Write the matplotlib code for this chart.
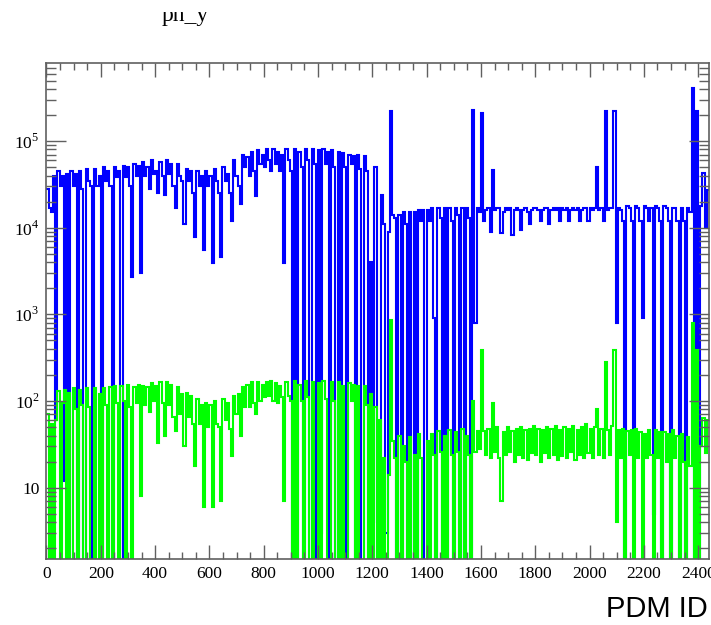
import numpy as np
import matplotlib
matplotlib.use("Agg")
import matplotlib.pyplot as plt
from matplotlib.ticker import MultipleLocator, LogLocator, NullFormatter
from matplotlib.transforms import Bbox

plt.rcParams["mathtext.fontset"] = "custom"
plt.rcParams["mathtext.rm"] = "Liberation Serif"

# one bin = 8 PDM ids, 305 bins over 0..2440
bin_width = 8

# blue histogram, counts in thousands
blue_k = [
    28, 17, 15, 40, 0.06, 45, 30, 40, 0.012, 42, 0, 45, 30, 42, 0, 45, 28, 0, 48, 35, 30, 0, 48, 30, 40,
    0, 50, 35, 45, 30, 0, 50, 38, 45, 0, 52, 38, 50, 30, 2.7, 55, 40, 52, 3.0, 58, 40, 50, 28, 60, 42,
    45, 25, 58, 40, 24, 60, 42, 55, 30, 17, 55, 40, 35, 11, 48, 35, 45, 25, 7.8, 45, 30, 40, 5.5, 45, 30,
    40, 3.9, 48, 35, 25, 4.6, 50, 35, 42, 25, 12, 60, 40, 30, 19, 70, 50, 65, 40, 75, 45, 23, 78, 55, 70,
    50, 80, 60, 45, 82, 55, 75, 45, 70, 3.9, 80, 60, 45, 0, 82, 0, 75, 50, 0, 82, 60, 0, 80, 55, 0,
    78, 0.003, 80, 55, 75, 0, 78, 50, 0, 75, 0, 72, 50, 0, 70, 55, 68, 0, 70, 48, 0, 68, 45, 0, 4.0,
    0.004, 50, 0, 0, 24, 11, 0.003, 9, 220, 14, 13, 0, 14, 0, 15, 11, 0, 15, 0, 15, 0, 16, 12, 16, 0,
    16, 12, 17, 0.9, 0, 17, 13, 0, 17, 0, 17, 12, 0, 17, 14, 0, 17, 0, 17, 13, 0, 230, 0.8, 17, 15,
    210, 12, 16, 17, 9, 46, 16, 17, 17, 8.7, 15, 17, 16, 17, 8.2, 16, 17, 16, 9.4, 16, 17, 15, 11, 16, 17,
    17, 16, 12, 16, 17, 17, 11, 16, 17, 16, 17, 12, 17, 16, 17, 12, 16, 17, 16, 17, 12, 16, 17, 17, 12,
    17, 16, 17, 50, 16, 17, 12, 220, 16, 17, 17, 220, 0.8, 17, 16, 12, 0, 18, 17, 12, 0.027, 18, 17, 12, 0.9,
    18, 17, 12, 17, 0.005, 18, 17, 12, 0, 18, 17, 12, 0, 17, 17, 12, 0, 17, 12, 0, 17, 15, 410, 0, 220,
    0, 18, 43, 10, 27,
]

# green histogram, counts
green = [
    70, 0, 55, 0, 60, 130, 0, 95, 135, 0, 125, 0, 140, 80, 0, 135, 90, 0, 140, 85, 0, 0, 140, 0, 120,
    0, 140, 90, 0, 145, 0, 150, 95, 0, 150, 100, 0, 155, 85, 0, 145, 95, 155, 8, 150, 90, 145, 75, 160, 100,
    150, 33, 165, 95, 40, 165, 90, 155, 65, 45, 145, 70, 120, 30, 125, 65, 115, 55, 18, 105, 55, 90, 6, 95, 50,
    90, 6, 100, 55, 50, 7, 105, 60, 95, 48, 23, 115, 70, 120, 40, 145, 85, 155, 85, 165, 95, 70, 165, 100, 155,
    110, 165, 115, 170, 100, 160, 95, 150, 110, 7, 165, 115, 100, 0, 170, 0, 155, 100, 0, 170, 110, 0, 165, 0, 0,
    160, 0, 170, 105, 0, 0, 165, 100, 0, 165, 0, 150, 0, 0, 160, 100, 155, 0, 150, 0, 0, 150, 90, 0, 120,
    0, 85, 0, 60, 0, 22, 0, 14, 850, 35, 22, 0, 40, 0, 30, 20, 0, 38, 0, 24, 0, 42, 22, 0, 0,
    35, 0, 42, 24, 0, 45, 26, 0, 40, 0, 46, 24, 0, 44, 26, 0, 48, 0, 40, 24, 0, 100, 26, 45, 28,
    390, 45, 24, 48, 22, 94, 26, 50, 22, 7, 44, 24, 50, 26, 45, 20, 48, 24, 50, 22, 46, 21, 48, 25, 52,
    24, 48, 20, 46, 25, 50, 22, 48, 24, 52, 21, 46, 23, 50, 22, 48, 26, 52, 21, 46, 24, 50, 22, 54, 25,
    48, 22, 50, 80, 24, 48, 22, 280, 46, 24, 52, 390, 4, 46, 22, 48, 0, 45, 24, 46, 0, 48, 22, 44, 0,
    42, 22, 46, 24, 0, 46, 22, 44, 0, 44, 20, 42, 0, 46, 22, 40, 0, 42, 20, 0, 38, 18, 800, 0, 390,
    0, 30, 64, 25, 60,
]

x_ticks = [0, 200, 400, 600, 800, 1000, 1200, 1400, 1600, 1800, 2000, 2200, 2400]
y_ticks = [10, 1e2, 1e3, 1e4, 1e5]
y_labels = ["10", "$10^{2}$", "$10^{3}$", "$10^{4}$", "$10^{5}$"]

blue_counts = np.array(blue_k) * 1000.0
green_counts = np.array(green, dtype=float)
edges = np.arange(len(blue_counts) + 1) * bin_width

fig = plt.figure(figsize=(7.11, 6.25), dpi=100)
ax = fig.add_axes([0.0654, 0.1051, 0.9318, 0.7936])

# empty bins are pushed below the frame so the step drops out of view
ax.stairs(np.maximum(blue_counts, 0.1), edges, baseline=None, color="#0000ff", lw=1.5)
ax.stairs(np.maximum(green_counts, 0.1), edges, baseline=None, color="#00ff00", lw=1.5)

ax.set_yscale("log")
ax.set_xlim(0, 2440)
ax.set_ylim(1.49, 7.9e5)

ax.set_xticks(x_ticks)
ax.xaxis.set_minor_locator(MultipleLocator(50))
ax.set_yticks(y_ticks, labels=y_labels)
ax.yaxis.set_minor_locator(LogLocator(base=10, subs=np.arange(2, 10)))
ax.yaxis.set_minor_formatter(NullFormatter())

for spine in ax.spines.values():
    spine.set_color("#606060")
    spine.set_linewidth(1.2)

ax.tick_params(which="both", direction="in", top=True, right=True,
               color="#606060", width=1.0, labelcolor="black")
ax.tick_params(axis="x", which="major", length=10, pad=5)
ax.tick_params(axis="x", which="minor", length=5)
ax.tick_params(axis="y", which="major", length=14.4, pad=5)
ax.tick_params(axis="y", which="minor", length=7.2)
for lab in ax.get_xticklabels() + ax.get_yticklabels():
    lab.set_family("Liberation Serif")
    lab.set_fontsize(12.5)

fig.text(708 / 711, 8 / 625, "PDM ID", ha="right", va="baseline",
         family="Liberation Sans", fontsize=21)

# histogram title sits at the very top, its upper part cut off by the canvas
title = fig.text(185 / 711, 1 - 21 / 625, "pn_y", ha="center", va="baseline",
                 family="Liberation Serif", fontsize=17)
title.set_clip_box(Bbox([[0, 0], [711, 613]]))
title.set_clip_on(True)

fig.savefig("out.png", dpi=100)
